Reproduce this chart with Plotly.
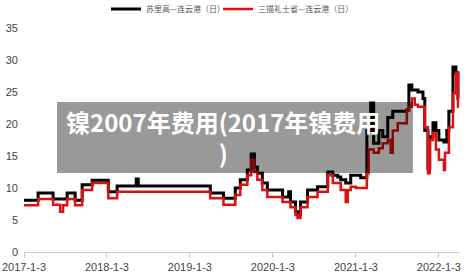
import plotly.graph_objects as go

dates = [
    "2017-01-03", "2017-03-06", "2017-05-11", "2017-06-11", "2017-06-24", "2017-07-12",
    "2017-08-16", "2017-09-16", "2017-10-30", "2018-01-09", "2018-02-17", "2018-05-12",
    "2018-05-21", "2019-04-03", "2019-05-31", "2019-07-22", "2019-08-13", "2019-09-13",
    "2019-09-30", "2019-10-14", "2019-10-27", "2019-11-18", "2019-12-10", "2020-02-15",
    "2020-03-13", "2020-03-21", "2020-04-12", "2020-04-21", "2020-05-04", "2020-06-04",
    "2020-07-18", "2020-09-01", "2020-09-23", "2020-10-15", "2020-10-28", "2020-11-19",
    "2020-11-28", "2020-12-11", "2021-01-03", "2021-01-24", "2021-02-20", "2021-02-28",
    "2021-03-09", "2021-03-22", "2021-04-14", "2021-05-01", "2021-05-23", "2021-06-05",
    "2021-06-14", "2021-07-06", "2021-08-15", "2021-08-24", "2021-09-06", "2021-09-19",
    "2021-10-03", "2021-10-25", "2021-11-02", "2021-11-16", "2021-11-24", "2021-12-08",
    "2021-12-21", "2022-01-03", "2022-01-25", "2022-01-30", "2022-02-07", "2022-02-16",
    "2022-03-06", "2022-03-19", "2022-03-28", "2022-04-01",
]

surigao = [
    8.1, 9.2, 8.3, 8.3, 8.3, 9.2,
    8.1, 10.5, 11.2, 9.4, 10.3, 11.4,
    10.3, 9.2, 8.4, 10.0, 11.3, 12.8,
    15.3, 13.3, 12.3, 10.8, 9.7, 8.6,
    9.4, 7.8, 6.3, 5.8, 7.8, 9.7,
    10.2, 12.5, 12.0, 11.7, 11.3, 10.8,
    10.8, 12.0, 12.0, 11.6, 19.0, 19.0,
    23.3, 17.0, 19.0, 18.0, 21.0, 21.0,
    22.0, 22.0, 22.2, 26.1, 25.3, 25.3,
    25.0, 24.0, 19.0, 13.0, 18.0, 20.2,
    19.0, 17.5, 17.2, 17.2, 19.0, 22.0,
    28.9, 28.0, 24.0, 24.0,
]

zambales = [
    7.3, 8.3, 7.4, 6.3, 7.3, 8.3,
    7.3, 9.7, 10.8, 8.4, 9.4, 9.4,
    9.4, 8.4, 7.4, 8.9, 10.5, 12.0,
    14.4, 12.5, 11.3, 9.7, 8.6, 7.8,
    7.8, 7.0, 5.8, 5.3, 7.0, 8.6,
    9.4, 12.0, 10.8, 10.8, 9.7, 7.8,
    9.7, 10.2, 10.0, 10.0, 12.3, 16.0,
    16.0, 15.5, 16.2, 17.0, 17.5, 15.5,
    19.0, 20.1, 22.2, 22.7, 24.0, 23.0,
    22.7, 22.7, 19.5, 12.3, 17.5, 18.6,
    16.0, 14.4, 12.8, 15.5, 15.5, 19.5,
    24.8, 28.0, 22.7, 22.7,
]

series_names = ["苏里高—连云港（日）", "三描礼士省—连云港（日）"]
tick_dates = ["2017-01-03", "2018-01-03", "2019-01-03", "2020-01-03", "2021-01-03", "2022-01-03"]
tick_labels = ["2017-1-3", "2018-1-3", "2019-1-3", "2020-1-3", "2021-1-3", "2022-1-3"]
y_ticks = [0, 5, 10, 15, 20, 25, 30, 35]
overlay_text = "镍2007年费用(2017年镍费用<br>)"

fig = go.Figure()
fig.add_trace(go.Scatter(x=dates, y=surigao, name=series_names[0], mode="lines",
                         legend="legend",
                         line=dict(color="#000000", width=3, shape="hv")))
fig.add_trace(go.Scatter(x=dates, y=zambales, name=series_names[1], mode="lines",
                         legend="legend2",
                         line=dict(color="#e01010", width=2.5, shape="hv")))

legend_common = dict(orientation="h", xanchor="left", y=1.15, yanchor="top",
                     font=dict(family="Noto Sans CJK SC", size=8, color="#555"),
                     bgcolor="rgba(0,0,0,0)", itemwidth=30)

fig.update_layout(
    width=471, height=277,
    margin=dict(l=24, r=11, t=28, b=25, autoexpand=False),
    paper_bgcolor="white", plot_bgcolor="white",
    font=dict(family="Liberation Sans, Arial, sans-serif", size=11, color="#444"),
    showlegend=True,
    legend=dict(x=0.188, **legend_common),
    legend2=dict(x=0.445, **legend_common),
    xaxis=dict(type="date", range=["2017-01-03", "2022-04-06"],
               tickvals=tick_dates, ticktext=tick_labels,
               showgrid=False, zeroline=False,
               showline=True, linecolor="#cccccc", linewidth=1,
               ticks="outside", ticklen=5, tickcolor="#cccccc",
               tickfont=dict(size=11, color="#444")),
    yaxis=dict(range=[0, 35], tickvals=y_ticks, showgrid=False, zeroline=False,
               showline=False, ticks="", ticklabelstandoff=5,
               tickfont=dict(size=11, color="#444")),
)

fig.add_shape(type="rect", xref="paper", yref="paper",
              x0=0.0757, x1=0.892, y0=0.353, y1=0.670,
              fillcolor="rgba(0,0,0,0.4)", line=dict(width=0), layer="above")

fig.add_annotation(xref="paper", yref="paper", x=0.456, y=0.513,
                   xanchor="center", yanchor="middle", showarrow=False,
                   text="<b>" + overlay_text + "</b>", align="center",
                   font=dict(family="Noto Sans CJK SC", size=24, color="white"))

fig.write_html("out.html")
